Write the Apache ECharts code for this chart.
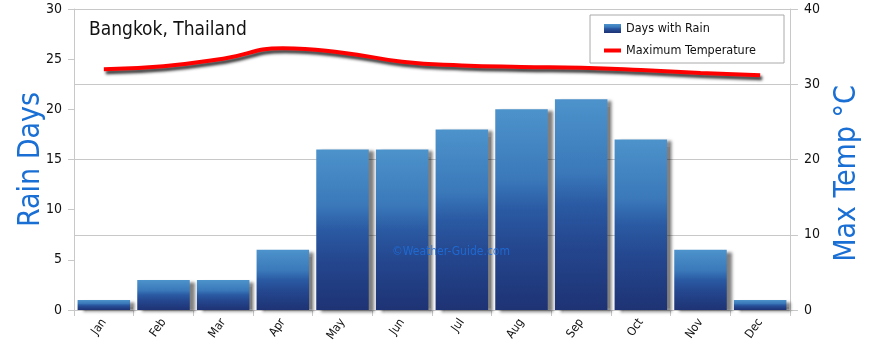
<!doctype html>
<html>
<head>
<meta charset="utf-8">
<title>Bangkok, Thailand</title>
<script src="https://cdn.jsdelivr.net/npm/echarts@6/dist/echarts.min.js"></script>
<style>
  html, body { margin: 0; padding: 0; background: #fff; }
  #chart { width: 870px; height: 352px; }
</style>
</head>
<body>
<div id="chart"></div>
<script>
// months and values
var months = ['Jan', 'Feb', 'Mar', 'Apr', 'May', 'Jun', 'Jul', 'Aug', 'Sep', 'Oct', 'Nov', 'Dec'];
var rainDays = [1, 3, 3, 6, 16, 16, 18, 20, 21, 17, 6, 1];
var maxTemp = [32.0, 32.4, 33.4, 34.8, 34.2, 33.0, 32.5, 32.3, 32.2, 31.9, 31.5, 31.2];

var font = '"DejaVu Sans Condensed", "DejaVu Sans", sans-serif';
var gray = '#c8c8c8';

var chart = echarts.init(document.getElementById('chart'));

chart.setOption({
  animation: false,
  textStyle: { fontFamily: font },
  grid: { left: 74, right: 80, top: 9, bottom: 42 },
  title: {
    text: 'Bangkok, Thailand',
    left: 84, top: 16,
    textStyle: { fontFamily: font, fontSize: 19, fontWeight: 'normal', color: '#111' }
  },
  legend: {
    orient: 'vertical',
    right: 86, top: 15,
    width: 170,
    padding: [7, 28, 6, 14],
    itemGap: 9,
    itemWidth: 17, itemHeight: 9,
    borderColor: '#aaa', borderWidth: 1,
    textStyle: { fontFamily: font, fontSize: 12.5, color: '#111' },
    data: [
      { name: 'Days with Rain', icon: 'rect' },
      { name: 'Maximum Temperature', icon: 'path://M0,0L17,0L17,4L0,4Z' }
    ]
  },
  graphic: [{
    type: 'text',
    left: 392, top: 246,
    style: { text: '©Weather-Guide.com', fontFamily: font, fontSize: 12, fill: 'rgba(30,110,220,0.85)' },
    z: 100
  }],
  xAxis: {
    type: 'category',
    data: months,
    axisLine: { lineStyle: { color: gray } },
    axisTick: { show: true, length: 6, lineStyle: { color: gray } },
    axisLabel: { rotate: 55, color: '#111', fontSize: 12, margin: 10 }
  },
  yAxis: [{
    type: 'value',
    min: 0, max: 30, interval: 5,
    name: 'Rain Days',
    nameLocation: 'middle',
    nameRotate: 90,
    nameGap: 28,
    nameMoveOverlap: false,
    nameTextStyle: { fontFamily: font, fontSize: 30, color: '#1a6fd4' },
    axisLine: { show: true, lineStyle: { color: gray } },
    axisTick: { show: true, length: 6, lineStyle: { color: gray } },
    axisLabel: { color: '#111', fontSize: 14, margin: 12 },
    splitLine: { show: false }
  }, {
    type: 'value',
    min: 0, max: 40, interval: 10,
    name: 'Max Temp °C',
    nameLocation: 'middle',
    nameRotate: 90,
    nameGap: 42,
    nameMoveOverlap: false,
    nameTextStyle: { fontFamily: font, fontSize: 30, color: '#1a6fd4', padding: [0, 28, 0, 0] },
    axisLine: { show: true, lineStyle: { color: gray } },
    axisTick: { show: true, length: 8, lineStyle: { color: gray } },
    axisLabel: { color: '#111', fontSize: 14, margin: 14 },
    splitLine: { show: true, lineStyle: { color: gray } }
  }],
  series: [{
    name: 'Days with Rain',
    type: 'bar',
    yAxisIndex: 0,
    data: rainDays,
    barCategoryGap: '12%',
    itemStyle: {
      color: new echarts.graphic.LinearGradient(0, 0, 0, 1, [
        { offset: 0, color: '#4d93cb' },
        { offset: 0.35, color: '#3a78ba' },
        { offset: 0.5, color: '#2a5aa3' },
        { offset: 0.7, color: '#24468e' },
        { offset: 1, color: '#1e3374' }
      ]),
      shadowColor: 'rgba(0,0,0,0.5)',
      shadowBlur: 3,
      shadowOffsetX: 5,
      shadowOffsetY: 2
    }
  }, {
    name: 'Maximum Temperature',
    type: 'line',
    yAxisIndex: 1,
    data: maxTemp,
    smooth: true,
    symbol: 'none',
    z: 5,
    color: '#ff0000',
    lineStyle: {
      color: '#ff0000',
      width: 4,
      shadowColor: 'rgba(0,0,0,0.8)',
      shadowBlur: 3,
      shadowOffsetX: 2,
      shadowOffsetY: 3
    }
  }]
});
</script>
</body>
</html>
